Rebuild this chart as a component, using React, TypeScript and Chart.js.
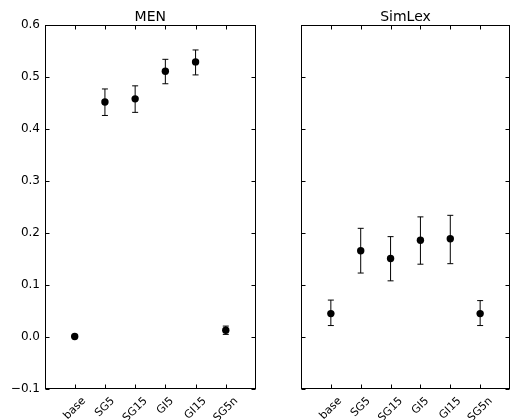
import React, { useEffect, useRef } from "react";
import { Chart, registerables } from "chart.js";
Chart.register(...registerables);

const categories = ["base", "SG5", "SG15", "GI5", "GI15", "SG5n"];

const menMean = [0.001, 0.452, 0.458, 0.511, 0.529, 0.013];
const menLow = [0.0, 0.426, 0.432, 0.487, 0.504, 0.005];
const menHigh = [0.003, 0.477, 0.483, 0.534, 0.552, 0.021];

const simMean = [0.045, 0.166, 0.151, 0.186, 0.189, 0.045];
const simLow = [0.022, 0.123, 0.108, 0.14, 0.141, 0.022];
const simHigh = [0.071, 0.209, 0.193, 0.231, 0.234, 0.07];

const yTicks = [-0.1, 0.0, 0.1, 0.2, 0.3, 0.4, 0.5, 0.6];
const yTickLabels = ["\u22120.1", "0.0", "0.1", "0.2", "0.3", "0.4", "0.5", "0.6"];
const titles = ["MEN", "SimLex"];

const FONT = "'DejaVu Sans', 'Liberation Sans', sans-serif";
const H = 420;

function makeOverlay(title: string, low: number[], high: number[], showY: boolean) {
  return {
    id: "overlay",
    beforeDatasetsDraw(chart: any) {
      const { ctx } = chart;
      const x = chart.scales.x;
      const y = chart.scales.y;
      ctx.save();
      ctx.strokeStyle = "#000";
      ctx.lineWidth = 1;
      low.forEach((_, i) => {
        const px = x.getPixelForValue(i);
        const pl = y.getPixelForValue(low[i]);
        const ph = y.getPixelForValue(high[i]);
        ctx.beginPath();
        ctx.moveTo(px, pl);
        ctx.lineTo(px, ph);
        ctx.moveTo(px - 3, ph);
        ctx.lineTo(px + 3, ph);
        ctx.moveTo(px - 3, pl);
        ctx.lineTo(px + 3, pl);
        ctx.stroke();
      });
      ctx.restore();
    },
    afterDraw(chart: any) {
      const { ctx, chartArea } = chart;
      const { left, right, top, bottom } = chartArea;
      const x = chart.scales.x;
      const y = chart.scales.y;
      ctx.save();
      ctx.strokeStyle = "#000";
      ctx.lineWidth = 1;
      const L = Math.round(left) + 0.5;
      const R = Math.round(right) - 0.5;
      const T = Math.round(top) + 0.5;
      const B = Math.round(bottom) - 0.5;
      ctx.strokeRect(L, T, R - L, B - T);
      const tl = 4;
      ctx.beginPath();
      categories.forEach((_, i) => {
        const px = Math.round(x.getPixelForValue(i)) + 0.5;
        ctx.moveTo(px, T);
        ctx.lineTo(px, T + tl);
        ctx.moveTo(px, B);
        ctx.lineTo(px, B - tl);
      });
      yTicks.forEach((v) => {
        const py = Math.round(y.getPixelForValue(v)) + 0.5;
        ctx.moveTo(L, py);
        ctx.lineTo(L + tl, py);
        ctx.moveTo(R, py);
        ctx.lineTo(R - tl, py);
      });
      ctx.stroke();

      ctx.fillStyle = "#000";

      // y tick labels
      if (showY) {
        ctx.font = `12px ${FONT}`;
        ctx.textAlign = "right";
        ctx.textBaseline = "middle";
        yTicks.forEach((v, i) => {
          ctx.fillText(yTickLabels[i], left - 4.5, y.getPixelForValue(v));
        });
      }

      // title
      ctx.font = `14px ${FONT}`;
      ctx.textAlign = "center";
      ctx.textBaseline = "alphabetic";
      ctx.fillText(title, (left + right) / 2, top - 4.5);

      // rotated x labels
      ctx.font = `11px ${FONT}`;
      categories.forEach((lab, i) => {
        const px = x.getPixelForValue(i);
        const w = ctx.measureText(lab).width;
        const h = 9;
        const W = (w + h) * Math.SQRT1_2;
        ctx.save();
        ctx.translate(px, bottom + 7 + W / 2);
        ctx.rotate(-Math.PI / 4);
        ctx.textAlign = "center";
        ctx.textBaseline = "middle";
        ctx.fillText(lab, 0, 0);
        ctx.restore();
      });
      ctx.restore();
    },
  };
}

function buildChart(
  canvas: HTMLCanvasElement,
  idx: number,
  mean: number[],
  low: number[],
  high: number[]
) {
  const showY = idx === 0;
  return new Chart(canvas, {
    type: "scatter",
    data: {
      datasets: [
        {
          data: mean.map((v, i) => ({ x: i, y: v })),
          backgroundColor: "#000",
          borderColor: "#000",
          borderWidth: 0,
          pointRadius: 3.7,
          showLine: false,
        },
      ],
    },
    options: {
      responsive: false,
      animation: false,
      events: [],
      layout: {
        padding: showY
          ? { left: 0, right: 2, top: 25, bottom: 31 }
          : { left: 0, right: 0.5, top: 25, bottom: 31 },
      },
      plugins: {
        legend: { display: false },
        tooltip: { enabled: false },
        title: { display: false },
      },
      scales: {
        x: {
          type: "linear",
          min: -1,
          max: 6,
          display: false,
        },
        y: {
          type: "linear",
          min: -0.1,
          max: 0.6,
          display: false,
          afterFit: (s: any) => {
            s.width = showY ? 44.5 : 41;
          },
        },
      },
    },
    plugins: [makeOverlay(titles[idx], low, high, showY)],
  } as any);
}

export default function App() {
  const ref1 = useRef<HTMLCanvasElement>(null);
  const ref2 = useRef<HTMLCanvasElement>(null);
  useEffect(() => {
    const c1 = buildChart(ref1.current!, 0, menMean, menLow, menHigh);
    const c2 = buildChart(ref2.current!, 1, simMean, simLow, simHigh);
    return () => {
      c1.destroy();
      c2.destroy();
    };
  }, []);
  return (
    <div
      style={{
        position: "absolute",
        left: 0,
        top: 0,
        width: 514,
        height: H,
        background: "#fff",
        overflow: "hidden",
      }}
    >
      <canvas
        ref={ref1}
        width={260}
        height={H}
        style={{ position: "absolute", left: 0, top: 0, width: 260, height: H }}
      />
      <canvas
        ref={ref2}
        width={254}
        height={H}
        style={{ position: "absolute", left: 260, top: 0, width: 254, height: H }}
      />
    </div>
  );
}
